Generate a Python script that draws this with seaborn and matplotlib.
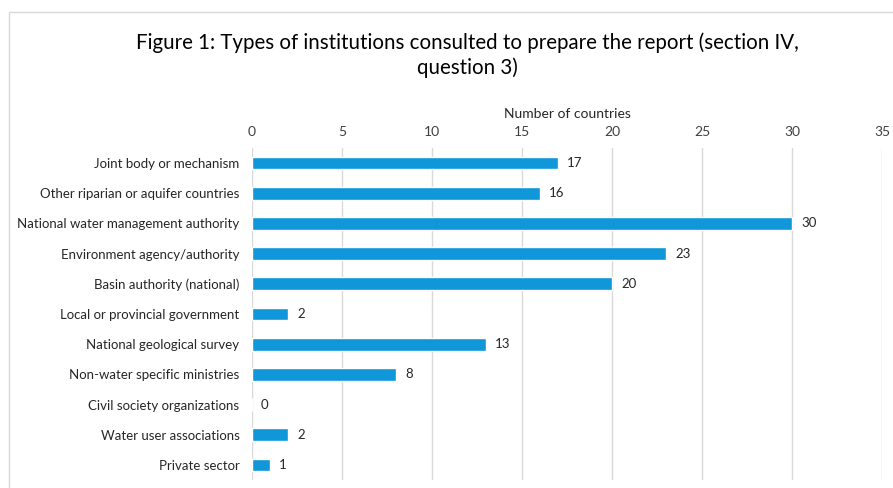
import matplotlib
matplotlib.use("Agg")
import matplotlib.pyplot as plt
import matplotlib.patches as mpatches
import seaborn as sns
import pandas as pd

categories = [
    "Joint body or mechanism",
    "Other riparian or aquifer countries",
    "National water management authority",
    "Environment agency/authority",
    "Basin authority (national)",
    "Local or provincial government",
    "National geological survey",
    "Non-water specific ministries",
    "Civil society organizations",
    "Water user associations",
    "Private sector",
]
counts = [17, 16, 30, 23, 20, 2, 13, 8, 0, 2, 1]
x_ticks = [0, 5, 10, 15, 20, 25, 30, 35]

title = "Figure 1: Types of institutions consulted to prepare the report (section IV,\nquestion 3)"
x_label = "Number of countries"

sns.set_theme(style="white")
plt.rcParams["font.family"] = ["Lato", "DejaVu Sans"]

df = pd.DataFrame({"category": categories, "count": counts})

fig = plt.figure(figsize=(8.93, 4.88), dpi=100)
ax = fig.add_axes([252 / 893, 1 - 480 / 488, 630 / 893, 332 / 488])

# chart frame
fig.patches.append(mpatches.Rectangle((9 / 893, -0.1), 1.0, 1 - 12 / 488 + 0.1,
                                      transform=fig.transFigure, fill=False,
                                      edgecolor="#D9D9D9", linewidth=1.0))

sns.barplot(data=df, x="count", y="category", orient="h", color="#0F97D9",
            saturation=1, width=0.42, ax=ax)

ax.set_xlim(0, 35)
ax.set_xticks(x_ticks)
ax.xaxis.tick_top()
ax.xaxis.set_label_position("top")
ax.set_xlabel(x_label, fontsize=10, color="#262626", labelpad=6)
ax.set_ylabel("")
ax.tick_params(axis="x", length=0, labelsize=10, labelcolor="#404040", pad=7)
ax.tick_params(axis="y", length=0, labelsize=9.5, labelcolor="#262626", pad=9)
ax.grid(axis="x", color="#D9D9D9", linewidth=1.0)
ax.set_axisbelow(True)
for s in ax.spines.values():
    s.set_visible(False)

for i, v in enumerate(counts):
    ax.text(v + 0.5, i, str(v), va="center", ha="left", fontsize=9.5, color="#262626")

fig.text(467 / 893, 1 - 55 / 488, title, ha="center", va="center", fontsize=14.8,
         color="#000000", linespacing=1.3)
fig.savefig("out.png", dpi=100)
